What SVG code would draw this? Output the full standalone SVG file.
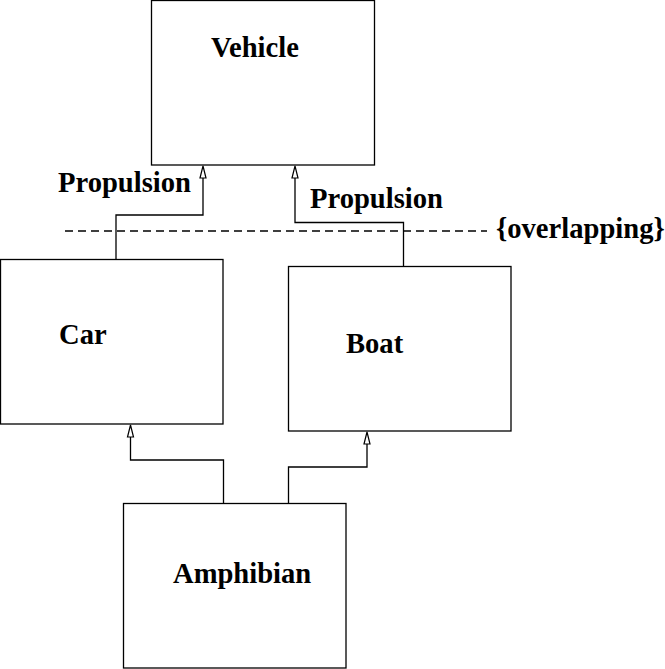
<svg xmlns="http://www.w3.org/2000/svg" width="665" height="669" viewBox="0 0 665 669">
<style>
.box{fill:#fff;stroke:#000;stroke-width:1.3}
.lbl{font-family:"Liberation Serif","Times New Roman",serif;font-weight:bold;font-size:28.6px;fill:#000}
.conn{fill:none;stroke:#000;stroke-width:1.3}
.head{fill:#fff;stroke:#000;stroke-width:1.2}
</style>
<rect width="665" height="669" fill="#fff"/>
<g id="connectors">
<path class="conn" d="M116,259 V215 H203 V178"/>
<path class="conn" d="M403.5,266 V222.5 H295 V178"/>
<path class="conn" d="M223.5,503 V460 H130.5 V437"/>
<path class="conn" d="M288.5,503 V467 H367 V444"/>
<path class="head" d="M203,166 L206,178 L200,178 Z"/>
<path class="head" d="M295,166 L298,178 L292,178 Z"/>
<path class="head" d="M130.5,425 L133.5,437 L127.5,437 Z"/>
<path class="head" d="M367,432 L370,444 L364,444 Z"/>
<line x1="65" y1="231" x2="487" y2="231" stroke="#000" stroke-width="1.4" stroke-dasharray="8,5"/>
</g>
<g id="vehicle">
<rect class="box" x="151.5" y="0.5" width="223" height="164.5"/>
<text class="lbl" x="211" y="57">Vehicle</text>
</g>
<g id="car">
<rect class="box" x="0.5" y="259.5" width="222.5" height="164.5"/>
<text class="lbl" x="59" y="344">Car</text>
</g>
<g id="boat">
<rect class="box" x="288.5" y="266.5" width="222.5" height="164.5"/>
<text class="lbl" x="346" y="353">Boat</text>
</g>
<g id="amphibian">
<rect class="box" x="123.5" y="503.5" width="222.5" height="164.5"/>
<text class="lbl" x="173" y="583">Amphibian</text>
</g>
<g id="labels">
<text class="lbl" x="58" y="192">Propulsion</text>
<text class="lbl" x="310" y="208">Propulsion</text>
<text class="lbl" x="496" y="238">{overlapping}</text>
</g>
</svg>
